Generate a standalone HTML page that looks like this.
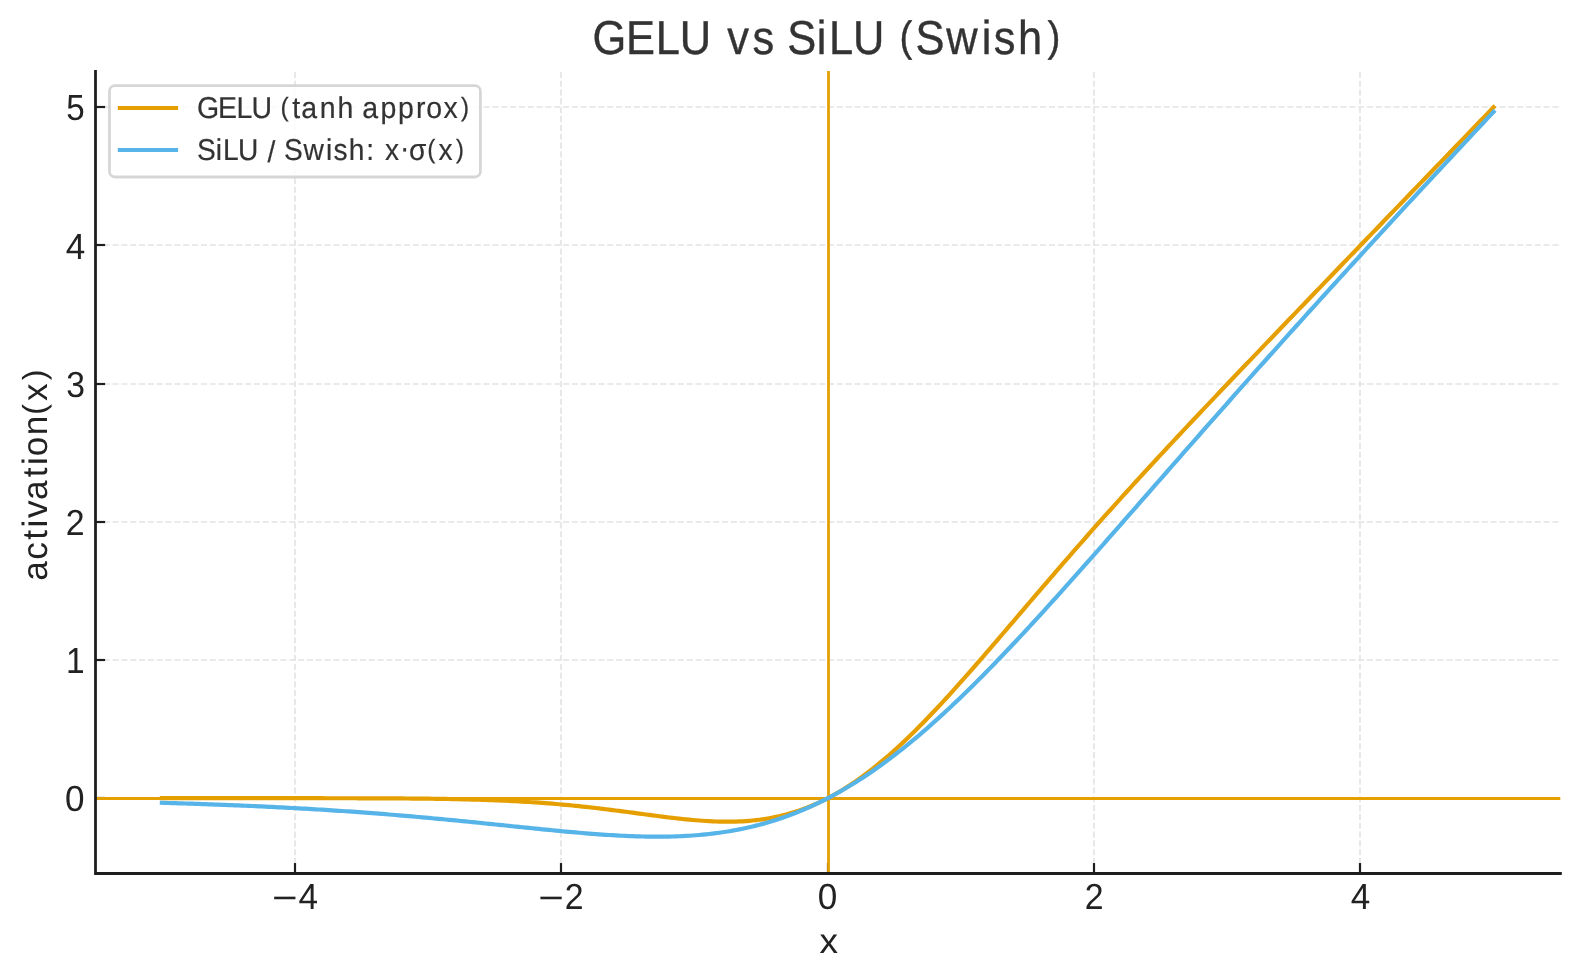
<!DOCTYPE html>
<html lang="en">
<head>
<meta charset="utf-8">
<title>GELU vs SiLU (Swish)</title>
<style>
html,body{margin:0;padding:0;background:#ffffff;}
body{width:1580px;height:980px;overflow:hidden;}
svg{display:block;position:absolute;left:0;top:0;will-change:transform;}
text{font-family:"Liberation Sans",sans-serif;white-space:pre;text-rendering:geometricPrecision;}
</style>
</head>
<body>
<svg width="1580" height="980" viewBox="0 0 1580 980">
<rect x="0" y="0" width="1580" height="980" fill="#ffffff"/>
<g stroke="#e4e4e4" stroke-width="1.67" stroke-dasharray="6.1667 2.6667" fill="none">
<line x1="295" y1="873.15" x2="295" y2="71.0" stroke-dashoffset="-0.15"/>
<line x1="561" y1="873.15" x2="561" y2="71.0" stroke-dashoffset="-0.15"/>
<line x1="828" y1="873.15" x2="828" y2="71.0" stroke-dashoffset="-0.15"/>
<line x1="1094" y1="873.15" x2="1094" y2="71.0" stroke-dashoffset="-0.15"/>
<line x1="1360" y1="873.15" x2="1360" y2="71.0" stroke-dashoffset="-0.15"/>
<line x1="95.3" y1="798" x2="1560.2" y2="798" stroke-dashoffset="0.45"/>
<line x1="95.3" y1="660" x2="1560.2" y2="660" stroke-dashoffset="0.45"/>
<line x1="95.3" y1="522" x2="1560.2" y2="522" stroke-dashoffset="0.45"/>
<line x1="95.3" y1="384" x2="1560.2" y2="384" stroke-dashoffset="0.45"/>
<line x1="95.3" y1="245" x2="1560.2" y2="245" stroke-dashoffset="0.45"/>
<line x1="95.3" y1="107" x2="1560.2" y2="107" stroke-dashoffset="0.45"/>
</g>
<g stroke="#1e1e1e" stroke-width="2.2">
<line x1="295" y1="873.15" x2="295" y2="863.05"/>
<line x1="561" y1="873.15" x2="561" y2="863.05"/>
<line x1="828" y1="873.15" x2="828" y2="863.05"/>
<line x1="1094" y1="873.15" x2="1094" y2="863.05"/>
<line x1="1360" y1="873.15" x2="1360" y2="863.05"/>
<line x1="95.3" y1="798" x2="105.10" y2="798"/>
<line x1="95.3" y1="660" x2="105.10" y2="660"/>
<line x1="95.3" y1="522" x2="105.10" y2="522"/>
<line x1="95.3" y1="384" x2="105.10" y2="384"/>
<line x1="95.3" y1="245" x2="105.10" y2="245"/>
<line x1="95.3" y1="107" x2="105.10" y2="107"/>
</g>
<line x1="95.3" y1="798.5" x2="1560.3" y2="798.5" stroke="#E69F00" stroke-width="2.78"/>
<line x1="828.5" y1="71.0" x2="828.5" y2="873.15" stroke="#E69F00" stroke-width="2.78"/>
<path d="M161.90,798.20 L165.24,798.20 L168.58,798.20 L171.91,798.20 L175.25,798.20 L178.59,798.20 L181.93,798.20 L185.26,798.20 L188.60,798.20 L191.94,798.20 L195.28,798.20 L198.61,798.20 L201.95,798.20 L205.29,798.20 L208.63,798.20 L211.96,798.20 L215.30,798.20 L218.64,798.20 L221.98,798.20 L225.31,798.20 L228.65,798.20 L231.99,798.20 L235.33,798.20 L238.66,798.20 L242.00,798.20 L245.34,798.20 L248.68,798.20 L252.02,798.20 L255.35,798.20 L258.69,798.20 L262.03,798.20 L265.37,798.20 L268.70,798.20 L272.04,798.20 L275.38,798.20 L278.72,798.21 L282.05,798.21 L285.39,798.21 L288.73,798.21 L292.07,798.21 L295.40,798.21 L298.74,798.21 L302.08,798.21 L305.42,798.21 L308.75,798.22 L312.09,798.22 L315.43,798.22 L318.77,798.22 L322.10,798.22 L325.44,798.23 L328.78,798.23 L332.12,798.23 L335.45,798.24 L338.79,798.24 L342.13,798.25 L345.47,798.25 L348.81,798.26 L352.14,798.26 L355.48,798.27 L358.82,798.28 L362.16,798.29 L365.49,798.30 L368.83,798.31 L372.17,798.32 L375.51,798.33 L378.84,798.34 L382.18,798.35 L385.52,798.37 L388.86,798.38 L392.19,798.40 L395.53,798.42 L398.87,798.44 L402.21,798.46 L405.54,798.49 L408.88,798.51 L412.22,798.54 L415.56,798.57 L418.89,798.60 L422.23,798.63 L425.57,798.67 L428.91,798.71 L432.25,798.75 L435.58,798.80 L438.92,798.85 L442.26,798.90 L445.60,798.95 L448.93,799.01 L452.27,799.07 L455.61,799.14 L458.95,799.21 L462.28,799.28 L465.62,799.36 L468.96,799.45 L472.30,799.54 L475.63,799.63 L478.97,799.73 L482.31,799.84 L485.65,799.95 L488.98,800.06 L492.32,800.19 L495.66,800.32 L499.00,800.45 L502.33,800.60 L505.67,800.75 L509.01,800.91 L512.35,801.07 L515.68,801.24 L519.02,801.42 L522.36,801.61 L525.70,801.81 L529.04,802.02 L532.37,802.23 L535.71,802.45 L539.05,802.69 L542.39,802.93 L545.72,803.18 L549.06,803.44 L552.40,803.70 L555.74,803.98 L559.07,804.27 L562.41,804.56 L565.75,804.87 L569.09,805.19 L572.42,805.51 L575.76,805.84 L579.10,806.19 L582.44,806.54 L585.77,806.90 L589.11,807.27 L592.45,807.64 L595.79,808.03 L599.12,808.42 L602.46,808.82 L605.80,809.23 L609.14,809.64 L612.48,810.06 L615.81,810.49 L619.15,810.92 L622.49,811.35 L625.83,811.79 L629.16,812.23 L632.50,812.68 L635.84,813.12 L639.18,813.57 L642.51,814.02 L645.85,814.46 L649.19,814.91 L652.53,815.35 L655.86,815.78 L659.20,816.22 L662.54,816.64 L665.88,817.06 L669.21,817.47 L672.55,817.87 L675.89,818.25 L679.23,818.63 L682.56,818.99 L685.90,819.33 L689.24,819.66 L692.58,819.97 L695.92,820.26 L699.25,820.53 L702.59,820.77 L705.93,820.99 L709.27,821.19 L712.60,821.35 L715.94,821.49 L719.28,821.59 L722.62,821.66 L725.95,821.70 L729.29,821.69 L732.63,821.66 L735.97,821.58 L739.30,821.46 L742.64,821.29 L745.98,821.08 L749.32,820.83 L752.65,820.52 L755.99,820.17 L759.33,819.77 L762.67,819.31 L766.00,818.80 L769.34,818.23 L772.68,817.61 L776.02,816.93 L779.35,816.19 L782.69,815.39 L786.03,814.52 L789.37,813.60 L792.71,812.61 L796.04,811.56 L799.38,810.44 L802.72,809.25 L806.06,808.00 L809.39,806.68 L812.73,805.29 L816.07,803.84 L819.41,802.31 L822.74,800.72 L826.08,799.06 L829.42,797.33 L832.76,795.52 L836.09,793.65 L839.43,791.71 L842.77,789.71 L846.11,787.63 L849.44,785.49 L852.78,783.27 L856.12,781.00 L859.46,778.65 L862.79,776.24 L866.13,773.77 L869.47,771.23 L872.81,768.63 L876.15,765.97 L879.48,763.24 L882.82,760.46 L886.16,757.62 L889.50,754.72 L892.83,751.77 L896.17,748.76 L899.51,745.70 L902.85,742.59 L906.18,739.43 L909.52,736.22 L912.86,732.97 L916.20,729.67 L919.53,726.33 L922.87,722.94 L926.21,719.52 L929.55,716.05 L932.88,712.55 L936.22,709.02 L939.56,705.45 L942.90,701.85 L946.23,698.23 L949.57,694.57 L952.91,690.89 L956.25,687.18 L959.58,683.45 L962.92,679.69 L966.26,675.92 L969.60,672.13 L972.94,668.32 L976.27,664.50 L979.61,660.66 L982.95,656.81 L986.29,652.94 L989.62,649.07 L992.96,645.19 L996.30,641.30 L999.64,637.41 L1002.97,633.51 L1006.31,629.60 L1009.65,625.69 L1012.99,621.78 L1016.32,617.87 L1019.66,613.96 L1023.00,610.05 L1026.34,606.15 L1029.67,602.24 L1033.01,598.34 L1036.35,594.44 L1039.69,590.55 L1043.02,586.66 L1046.36,582.77 L1049.70,578.90 L1053.04,575.02 L1056.38,571.16 L1059.71,567.30 L1063.05,563.46 L1066.39,559.61 L1069.73,555.78 L1073.06,551.96 L1076.40,548.14 L1079.74,544.34 L1083.08,540.54 L1086.41,536.75 L1089.75,532.97 L1093.09,529.20 L1096.43,525.44 L1099.76,521.69 L1103.10,517.95 L1106.44,514.22 L1109.78,510.50 L1113.11,506.78 L1116.45,503.08 L1119.79,499.38 L1123.13,495.70 L1126.46,492.02 L1129.80,488.35 L1133.14,484.69 L1136.48,481.04 L1139.82,477.39 L1143.15,473.76 L1146.49,470.13 L1149.83,466.50 L1153.17,462.89 L1156.50,459.28 L1159.84,455.68 L1163.18,452.09 L1166.52,448.50 L1169.85,444.92 L1173.19,441.35 L1176.53,437.78 L1179.87,434.22 L1183.20,430.66 L1186.54,427.10 L1189.88,423.56 L1193.22,420.01 L1196.55,416.48 L1199.89,412.94 L1203.23,409.41 L1206.57,405.89 L1209.90,402.36 L1213.24,398.84 L1216.58,395.33 L1219.92,391.82 L1223.25,388.31 L1226.59,384.80 L1229.93,381.30 L1233.27,377.80 L1236.61,374.30 L1239.94,370.81 L1243.28,367.31 L1246.62,363.82 L1249.96,360.33 L1253.29,356.85 L1256.63,353.36 L1259.97,349.88 L1263.31,346.39 L1266.64,342.91 L1269.98,339.43 L1273.32,335.95 L1276.66,332.48 L1279.99,329.00 L1283.33,325.53 L1286.67,322.05 L1290.01,318.58 L1293.34,315.11 L1296.68,311.63 L1300.02,308.16 L1303.36,304.69 L1306.69,301.22 L1310.03,297.75 L1313.37,294.28 L1316.71,290.82 L1320.05,287.35 L1323.38,283.88 L1326.72,280.41 L1330.06,276.95 L1333.40,273.48 L1336.73,270.01 L1340.07,266.55 L1343.41,263.08 L1346.75,259.62 L1350.08,256.15 L1353.42,252.69 L1356.76,249.22 L1360.10,245.76 L1363.43,242.29 L1366.77,238.83 L1370.11,235.36 L1373.45,231.90 L1376.78,228.43 L1380.12,224.97 L1383.46,221.50 L1386.80,218.04 L1390.13,214.58 L1393.47,211.11 L1396.81,207.65 L1400.15,204.18 L1403.48,200.72 L1406.82,197.26 L1410.16,193.79 L1413.50,190.33 L1416.84,186.87 L1420.17,183.40 L1423.51,179.94 L1426.85,176.47 L1430.19,173.01 L1433.52,169.55 L1436.86,166.08 L1440.20,162.62 L1443.54,159.16 L1446.87,155.69 L1450.21,152.23 L1453.55,148.76 L1456.89,145.30 L1460.22,141.84 L1463.56,138.37 L1466.90,134.91 L1470.24,131.45 L1473.57,127.98 L1476.91,124.52 L1480.25,121.05 L1483.59,117.59 L1486.92,114.13 L1490.26,110.66 L1493.60,107.20" fill="none" stroke="#E69F00" stroke-width="4.2" stroke-linejoin="round" stroke-linecap="square"/>
<path d="M161.90,802.82 L165.24,802.92 L168.58,803.01 L171.91,803.11 L175.25,803.21 L178.59,803.31 L181.93,803.41 L185.26,803.51 L188.60,803.62 L191.94,803.72 L195.28,803.83 L198.61,803.94 L201.95,804.06 L205.29,804.17 L208.63,804.29 L211.96,804.41 L215.30,804.53 L218.64,804.66 L221.98,804.78 L225.31,804.91 L228.65,805.04 L231.99,805.17 L235.33,805.31 L238.66,805.44 L242.00,805.58 L245.34,805.73 L248.68,805.87 L252.02,806.02 L255.35,806.17 L258.69,806.32 L262.03,806.47 L265.37,806.63 L268.70,806.79 L272.04,806.95 L275.38,807.12 L278.72,807.28 L282.05,807.45 L285.39,807.63 L288.73,807.80 L292.07,807.98 L295.40,808.16 L298.74,808.35 L302.08,808.53 L305.42,808.72 L308.75,808.91 L312.09,809.11 L315.43,809.31 L318.77,809.51 L322.10,809.72 L325.44,809.92 L328.78,810.13 L332.12,810.35 L335.45,810.57 L338.79,810.79 L342.13,811.01 L345.47,811.24 L348.81,811.46 L352.14,811.70 L355.48,811.93 L358.82,812.17 L362.16,812.41 L365.49,812.66 L368.83,812.91 L372.17,813.16 L375.51,813.42 L378.84,813.67 L382.18,813.94 L385.52,814.20 L388.86,814.47 L392.19,814.74 L395.53,815.01 L398.87,815.29 L402.21,815.57 L405.54,815.85 L408.88,816.14 L412.22,816.43 L415.56,816.72 L418.89,817.02 L422.23,817.32 L425.57,817.62 L428.91,817.92 L432.25,818.23 L435.58,818.54 L438.92,818.85 L442.26,819.17 L445.60,819.49 L448.93,819.81 L452.27,820.13 L455.61,820.45 L458.95,820.78 L462.28,821.11 L465.62,821.44 L468.96,821.77 L472.30,822.11 L475.63,822.45 L478.97,822.78 L482.31,823.12 L485.65,823.47 L488.98,823.81 L492.32,824.15 L495.66,824.50 L499.00,824.84 L502.33,825.19 L505.67,825.53 L509.01,825.88 L512.35,826.22 L515.68,826.57 L519.02,826.91 L522.36,827.26 L525.70,827.60 L529.04,827.94 L532.37,828.28 L535.71,828.62 L539.05,828.96 L542.39,829.30 L545.72,829.63 L549.06,829.96 L552.40,830.28 L555.74,830.61 L559.07,830.93 L562.41,831.24 L565.75,831.55 L569.09,831.86 L572.42,832.16 L575.76,832.45 L579.10,832.74 L582.44,833.03 L585.77,833.30 L589.11,833.57 L592.45,833.83 L595.79,834.09 L599.12,834.33 L602.46,834.57 L605.80,834.79 L609.14,835.01 L612.48,835.21 L615.81,835.41 L619.15,835.59 L622.49,835.76 L625.83,835.92 L629.16,836.07 L632.50,836.20 L635.84,836.31 L639.18,836.42 L642.51,836.50 L645.85,836.57 L649.19,836.63 L652.53,836.66 L655.86,836.68 L659.20,836.68 L662.54,836.66 L665.88,836.62 L669.21,836.56 L672.55,836.48 L675.89,836.38 L679.23,836.25 L682.56,836.10 L685.90,835.93 L689.24,835.74 L692.58,835.51 L695.92,835.27 L699.25,834.99 L702.59,834.69 L705.93,834.36 L709.27,834.00 L712.60,833.61 L715.94,833.20 L719.28,832.75 L722.62,832.27 L725.95,831.76 L729.29,831.22 L732.63,830.64 L735.97,830.03 L739.30,829.39 L742.64,828.71 L745.98,828.00 L749.32,827.25 L752.65,826.46 L755.99,825.64 L759.33,824.78 L762.67,823.88 L766.00,822.94 L769.34,821.97 L772.68,820.95 L776.02,819.89 L779.35,818.80 L782.69,817.66 L786.03,816.48 L789.37,815.27 L792.71,814.01 L796.04,812.70 L799.38,811.36 L802.72,809.97 L806.06,808.54 L809.39,807.07 L812.73,805.55 L816.07,804.00 L819.41,802.39 L822.74,800.75 L826.08,799.06 L829.42,797.33 L832.76,795.55 L836.09,793.73 L839.43,791.87 L842.77,789.97 L846.11,788.02 L849.44,786.03 L852.78,783.99 L856.12,781.92 L859.46,779.80 L862.79,777.64 L866.13,775.43 L869.47,773.19 L872.81,770.90 L876.15,768.58 L879.48,766.21 L882.82,763.80 L886.16,761.35 L889.50,758.86 L892.83,756.34 L896.17,753.77 L899.51,751.17 L902.85,748.53 L906.18,745.85 L909.52,743.14 L912.86,740.39 L916.20,737.60 L919.53,734.78 L922.87,731.93 L926.21,729.04 L929.55,726.12 L932.88,723.17 L936.22,720.18 L939.56,717.17 L942.90,714.12 L946.23,711.04 L949.57,707.94 L952.91,704.80 L956.25,701.64 L959.58,698.45 L962.92,695.24 L966.26,691.99 L969.60,688.73 L972.94,685.44 L976.27,682.12 L979.61,678.78 L982.95,675.42 L986.29,672.04 L989.62,668.64 L992.96,665.21 L996.30,661.77 L999.64,658.30 L1002.97,654.82 L1006.31,651.32 L1009.65,647.80 L1012.99,644.27 L1016.32,640.72 L1019.66,637.15 L1023.00,633.57 L1026.34,629.98 L1029.67,626.37 L1033.01,622.75 L1036.35,619.11 L1039.69,615.47 L1043.02,611.81 L1046.36,608.14 L1049.70,604.46 L1053.04,600.77 L1056.38,597.07 L1059.71,593.36 L1063.05,589.65 L1066.39,585.92 L1069.73,582.19 L1073.06,578.45 L1076.40,574.70 L1079.74,570.95 L1083.08,567.19 L1086.41,563.43 L1089.75,559.66 L1093.09,555.88 L1096.43,552.10 L1099.76,548.32 L1103.10,544.53 L1106.44,540.74 L1109.78,536.95 L1113.11,533.15 L1116.45,529.35 L1119.79,525.55 L1123.13,521.75 L1126.46,517.95 L1129.80,514.14 L1133.14,510.33 L1136.48,506.52 L1139.82,502.72 L1143.15,498.91 L1146.49,495.10 L1149.83,491.29 L1153.17,487.48 L1156.50,483.67 L1159.84,479.86 L1163.18,476.05 L1166.52,472.25 L1169.85,468.44 L1173.19,464.64 L1176.53,460.83 L1179.87,457.03 L1183.20,453.23 L1186.54,449.43 L1189.88,445.63 L1193.22,441.84 L1196.55,438.05 L1199.89,434.26 L1203.23,430.47 L1206.57,426.68 L1209.90,422.90 L1213.24,419.12 L1216.58,415.34 L1219.92,411.56 L1223.25,407.79 L1226.59,404.02 L1229.93,400.25 L1233.27,396.48 L1236.61,392.72 L1239.94,388.96 L1243.28,385.21 L1246.62,381.45 L1249.96,377.70 L1253.29,373.95 L1256.63,370.21 L1259.97,366.47 L1263.31,362.73 L1266.64,359.00 L1269.98,355.27 L1273.32,351.54 L1276.66,347.81 L1279.99,344.09 L1283.33,340.37 L1286.67,336.66 L1290.01,332.94 L1293.34,329.23 L1296.68,325.53 L1300.02,321.83 L1303.36,318.13 L1306.69,314.43 L1310.03,310.74 L1313.37,307.05 L1316.71,303.36 L1320.05,299.68 L1323.38,296.00 L1326.72,292.32 L1330.06,288.64 L1333.40,284.97 L1336.73,281.30 L1340.07,277.64 L1343.41,273.98 L1346.75,270.32 L1350.08,266.66 L1353.42,263.01 L1356.76,259.36 L1360.10,255.71 L1363.43,252.06 L1366.77,248.42 L1370.11,244.78 L1373.45,241.14 L1376.78,237.51 L1380.12,233.88 L1383.46,230.25 L1386.80,226.63 L1390.13,223.00 L1393.47,219.38 L1396.81,215.76 L1400.15,212.15 L1403.48,208.54 L1406.82,204.92 L1410.16,201.32 L1413.50,197.71 L1416.84,194.11 L1420.17,190.51 L1423.51,186.91 L1426.85,183.31 L1430.19,179.72 L1433.52,176.13 L1436.86,172.54 L1440.20,168.95 L1443.54,165.36 L1446.87,161.78 L1450.21,158.20 L1453.55,154.62 L1456.89,151.04 L1460.22,147.47 L1463.56,143.90 L1466.90,140.33 L1470.24,136.76 L1473.57,133.19 L1476.91,129.62 L1480.25,126.06 L1483.59,122.50 L1486.92,118.94 L1490.26,115.38 L1493.60,111.82" fill="none" stroke="#56B4E9" stroke-width="4.2" stroke-linejoin="round" stroke-linecap="square"/>
<path d="M95.5,70.1 L95.5,873.5 L1561.8,873.5" fill="none" stroke="#1e1e1e" stroke-width="2.78" stroke-linecap="butt" stroke-linejoin="miter"/>
<text y="908.7" font-size="36.2" fill="#222222"><tspan x="271.94" dy="1.6" textLength="25.60" lengthAdjust="spacingAndGlyphs">−</tspan><tspan x="298.59" dy="-1.6" textLength="19.54" lengthAdjust="spacingAndGlyphs">4</tspan></text>
<text y="908.7" font-size="36.2" fill="#222222"><tspan x="538.24" dy="1.6" textLength="25.60" lengthAdjust="spacingAndGlyphs">−</tspan><tspan x="564.81" dy="-1.6" textLength="18.84" lengthAdjust="spacingAndGlyphs">2</tspan></text>
<text y="908.7" font-size="36.2" fill="#222222"><tspan x="817.82" textLength="19.54" lengthAdjust="spacingAndGlyphs">0</tspan></text>
<text y="908.7" font-size="36.2" fill="#222222"><tspan x="1084.78" textLength="18.84" lengthAdjust="spacingAndGlyphs">2</tspan></text>
<text y="908.7" font-size="36.2" fill="#222222"><tspan x="1350.82" textLength="19.54" lengthAdjust="spacingAndGlyphs">4</tspan></text>
<text y="810.55" font-size="36.2" fill="#222222"><tspan x="65.02" textLength="19.54" lengthAdjust="spacingAndGlyphs">0</tspan></text>
<text y="673.25" font-size="36.2" fill="#222222"><tspan x="66.05" textLength="18.66" lengthAdjust="spacingAndGlyphs">1</tspan></text>
<text y="535.05" font-size="36.2" fill="#222222"><tspan x="65.68" textLength="18.84" lengthAdjust="spacingAndGlyphs">2</tspan></text>
<text y="396.85" font-size="36.2" fill="#222222"><tspan x="66.20" textLength="18.77" lengthAdjust="spacingAndGlyphs">3</tspan></text>
<text y="258.65" font-size="36.2" fill="#222222"><tspan x="65.76" textLength="19.54" lengthAdjust="spacingAndGlyphs">4</tspan></text>
<text y="120.45" font-size="36.2" fill="#222222"><tspan x="66.19" textLength="18.44" lengthAdjust="spacingAndGlyphs">5</tspan></text>
<text y="952.9" font-size="35.2" fill="#222222"><tspan x="819.58" textLength="18.51" lengthAdjust="spacingAndGlyphs">x</tspan></text>
<g transform="translate(46.9,578.0) rotate(-90)"><text transform="scale(1.0000,1)" font-size="35.2" fill="#222222"><tspan x="-2.84 18.37 38.27 50.52 60.09 77.90 100.71 112.95 121.88 142.69" y="0.00">activation</tspan><tspan x="163.35" y="-2.20" font-size="31.86">(</tspan><tspan x="176.94" y="0.00">x</tspan><tspan x="197.65" y="-2.20" font-size="31.86">)</tspan></text>
</g>
<text transform="scale(0.9095,1)" font-size="47.75" fill="#333333" stroke="#333333" stroke-width="0.4" stroke-linejoin="round"><tspan x="651.54 688.30 721.02 747.28" y="53.75">GELU</tspan> <tspan x="799.69 827.41" y="53.75">vs</tspan> <tspan x="865.47 898.07 911.48 937.79" y="53.75">SiLU</tspan> <tspan x="988.94" y="50.81" font-size="42.48">(</tspan><tspan x="1006.52 1040.53 1079.38 1092.63 1119.31" y="53.75">Swish</tspan><tspan x="1151.63" y="50.81" font-size="42.48">)</tspan></text>
<rect x="109.5" y="85.6" width="370.9" height="91.4" rx="5.5" ry="5.5" fill="#ffffff" fill-opacity="0.8" stroke="#cccccc" stroke-opacity="0.8" stroke-width="2.78"/>
<line x1="117.8" y1="108" x2="178.1" y2="108" stroke="#E69F00" stroke-width="4.2"/>
<line x1="117.8" y1="150" x2="178.1" y2="150" stroke="#56B4E9" stroke-width="4.2"/>
<text transform="scale(0.9438,1)" font-size="30.2" fill="#333333" stroke="#333333" stroke-width="0.2" stroke-linejoin="round"><tspan x="208.69 230.90 250.71 266.46" y="118.10">GELU</tspan> <tspan x="297.15" y="116.26" font-size="26.56">(</tspan><tspan x="309.54 319.18 338.79 357.50" y="118.10">tanh</tspan> <tspan x="383.78 403.22 421.70 440.68 451.63 469.93" y="118.10">approx</tspan><tspan x="488.08" y="116.26" font-size="26.56">)</tspan></text>
<text transform="scale(0.9330,1)" font-size="30.2" fill="#333333" stroke="#333333" stroke-width="0.2" stroke-linejoin="round"><tspan x="211.12 231.18 239.09 255.00" y="159.80">SiLU</tspan> <tspan x="286.73" y="161.74">/</tspan> <tspan x="304.41 325.30 349.39 357.43 373.80 392.62" y="159.80">Swish:</tspan> <tspan x="412.61" y="159.80">x</tspan><tspan x="428.68" y="158.36">·</tspan><tspan x="438.48" y="159.80">σ</tspan><tspan x="457.93" y="157.96" font-size="26.56">(</tspan><tspan x="469.95" y="159.80">x</tspan><tspan x="488.37" y="157.96" font-size="26.56">)</tspan></text>
</svg>
</body>
</html>
